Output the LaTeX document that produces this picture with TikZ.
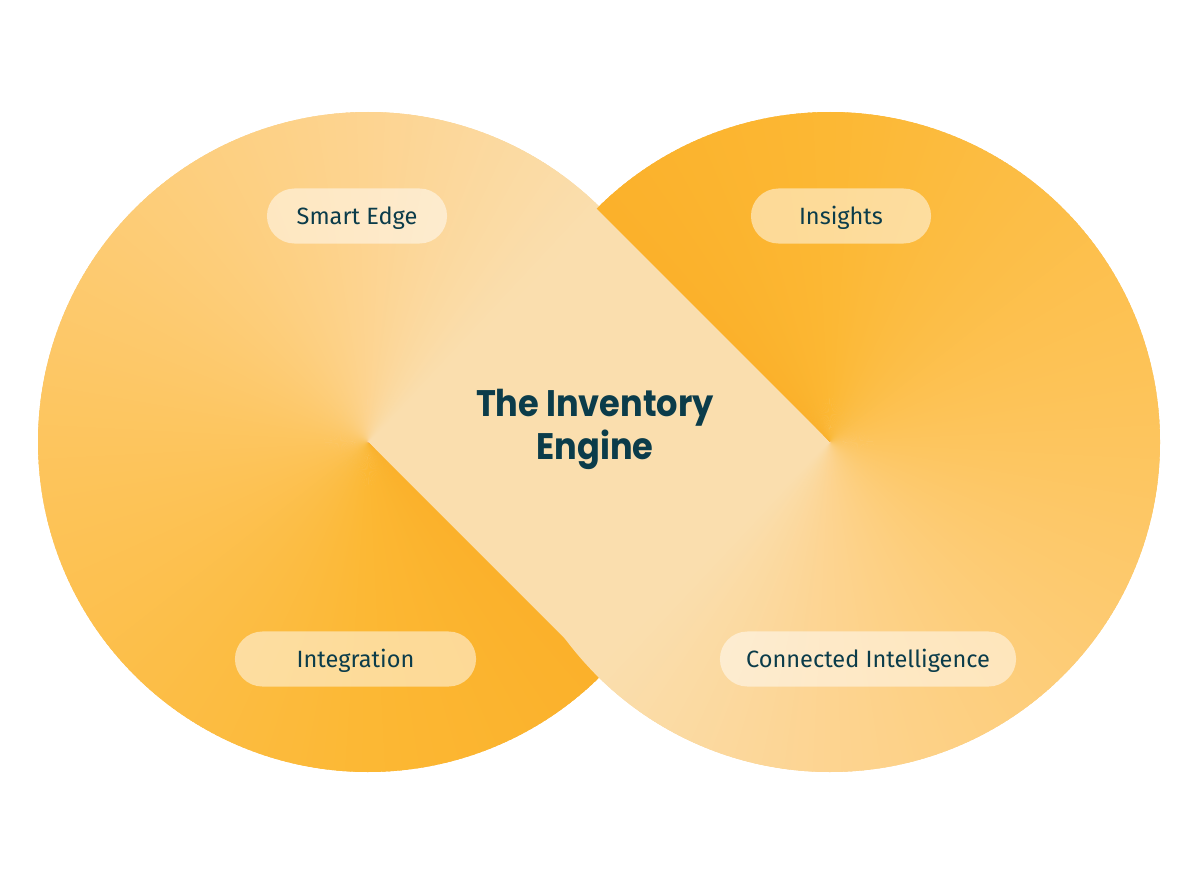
\documentclass[tikz,border=0pt]{standalone}
\usepackage{fontspec}
\setmainfont{Fira Sans}
\newfontfamily\headfont[FakeStretch=0.91]{Poppins}
\definecolor{cA}{HTML}{FBB12B}
\definecolor{cB}{HTML}{FCB834}
\definecolor{cC}{HTML}{FDC55E}
\definecolor{cD}{HTML}{FDD491}
\definecolor{cE}{HTML}{FADEAE}
\definecolor{ink}{HTML}{0B3C4A}
\newcommand\conicdisk[3]{%
  \fill[cE] (#1,#2) circle[radius=330];
  \foreach \sa/\sb/\ca/\cb in {0/45/cA/cB,45/135/cB/cC,135/225/cC/cD,225/270/cD/cE}{%
    \pgfmathtruncatemacro\nn{\sb-\sa-1}%
    \foreach \k in {0,...,\nn}{%
      \pgfmathsetmacro\pp{100*\k/(\sb-\sa)}%
      \pgfmathsetmacro\ta{#3+\sa+\k}%
      \pgfmathsetmacro\tb{#3+\sa+\k+1.6}%
      \fill[\cb!\pp!\ca] (#1,#2) -- ++(\ta:330) arc[start angle=\ta, end angle=\tb, radius=330] -- cycle;
    }}}
\tikzset{
  pill/.style={rounded corners=0.275cm, fill=white, fill opacity=0.5, text opacity=1,
    minimum height=0.55cm, inner sep=0pt, text=ink,
    font=\fontsize{6.7}{8}\selectfont, text height=4.6pt, text depth=0pt},
  title/.style={align=center, text=ink, inner sep=0pt,
    font=\headfont\bfseries\fontsize{10.5}{10.5}\selectfont}
}
\begin{document}
\begin{tikzpicture}[x=0.01cm,y=-0.01cm]
\useasboundingbox (0,0) rectangle (1200,885);
\conicdisk{368}{442}{45}
\conicdisk{830}{442}{225}
\node[pill, minimum width=1.80cm] (smart) at (357,216) {Smart Edge};
\node[pill, minimum width=1.80cm] (insights) at (841,216) {Insights};
\node[pill, minimum width=2.41cm] (integ) at (355.5,659) {Integration};
\node[pill, minimum width=2.96cm] (conn) at (868,659) {Connected Intelligence};
\node[title] (engine) at (595,429) {The Inventory\\Engine};
\end{tikzpicture}
\end{document}
